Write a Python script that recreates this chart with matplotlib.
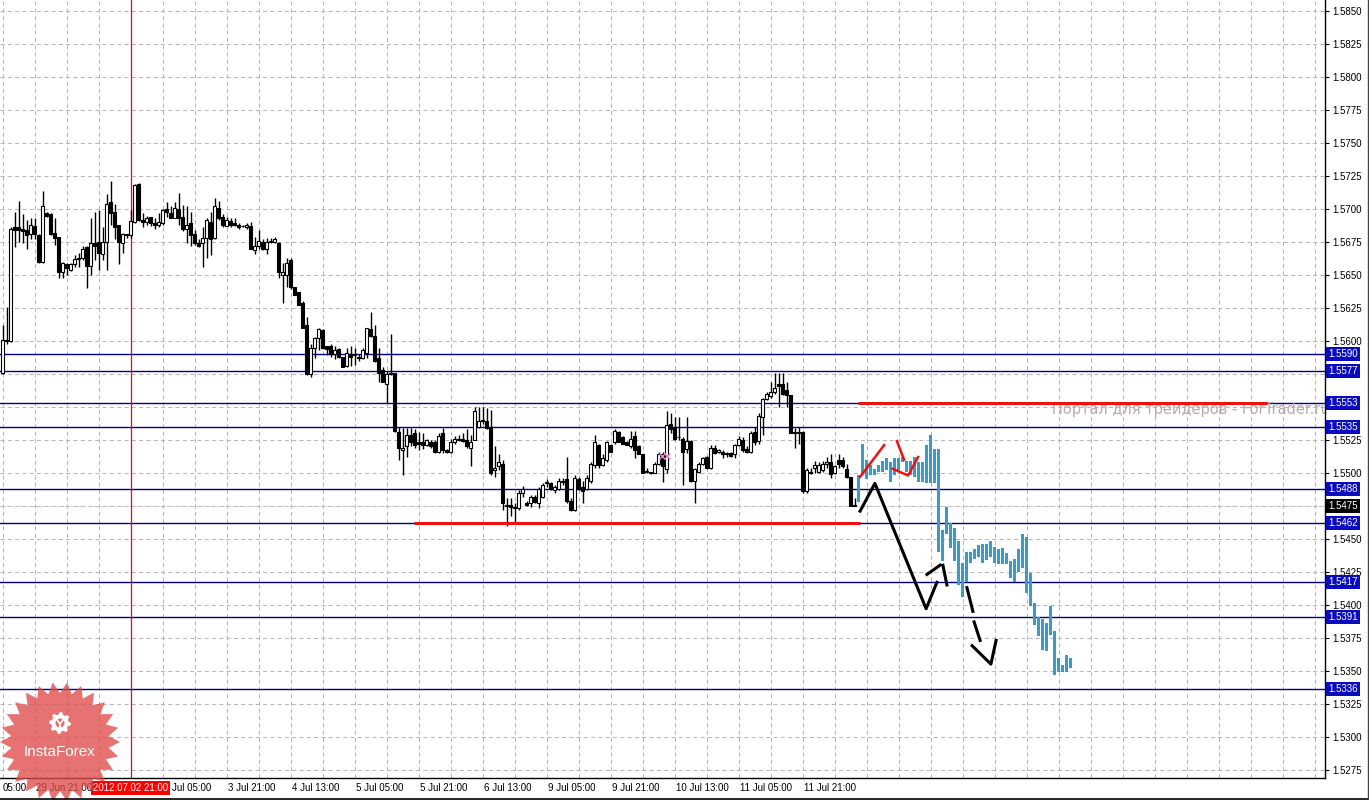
import numpy as np
import matplotlib
matplotlib.use("Agg")
import matplotlib.pyplot as plt
from matplotlib.transforms import blended_transform_factory

# H1 candles, bar 0 .. 213
opens = [1.5576, 1.5601, 1.5600, 1.5686, 1.5686, 1.5685, 1.5684, 1.5681, 1.5687, 1.5680,
         1.5660, 1.5697, 1.5696, 1.5682, 1.5679, 1.5652, 1.5658, 1.5654, 1.5658, 1.5662,
         1.5663, 1.5671, 1.5657, 1.5674, 1.5675, 1.5666, 1.5675, 1.5705, 1.5698, 1.5688,
         1.5674, 1.5681, 1.5680, 1.5690, 1.5719, 1.5692, 1.5690, 1.5694, 1.5689, 1.5688,
         1.5689, 1.5700, 1.5697, 1.5693, 1.5700, 1.5694, 1.5685, 1.5689, 1.5681, 1.5674,
         1.5674, 1.5678, 1.5690, 1.5678, 1.5701, 1.5694, 1.5687, 1.5691, 1.5689, 1.5688,
         1.5687, 1.5686, 1.5687, 1.5669, 1.5672, 1.5675, 1.5670, 1.5676, 1.5675, 1.5674,
         1.5650, 1.5650, 1.5661, 1.5641, 1.5637, 1.5629, 1.5612, 1.5575, 1.5595, 1.5602,
         1.5608, 1.5596, 1.5596, 1.5590, 1.5594, 1.5588, 1.5581, 1.5590, 1.5590, 1.5588,
         1.5587, 1.5591, 1.5609, 1.5604, 1.5587, 1.5578, 1.5567, 1.5576, 1.5576, 1.5531,
         1.5517, 1.5520, 1.5529, 1.5530, 1.5523, 1.5523, 1.5521, 1.5523, 1.5523, 1.5516,
         1.5530, 1.5517, 1.5516, 1.5523, 1.5526, 1.5526, 1.5525, 1.5519, 1.5525, 1.5535,
         1.5540, 1.5539, 1.5534, 1.5502, 1.5505, 1.5507, 1.5476, 1.5476, 1.5474, 1.5473,
         1.5485, 1.5477, 1.5477, 1.5482, 1.5477, 1.5482, 1.5492, 1.5492, 1.5487, 1.5488,
         1.5494, 1.5495, 1.5479, 1.5472, 1.5495, 1.5489, 1.5488, 1.5494, 1.5506, 1.5521,
         1.5506, 1.5510, 1.5521, 1.5523, 1.5531, 1.5527, 1.5523, 1.5520, 1.5528, 1.5520,
         1.5514, 1.5501, 1.5500, 1.5500, 1.5507, 1.5514, 1.5503, 1.5537, 1.5535, 1.5527,
         1.5526, 1.5518, 1.5524, 1.5494, 1.5501, 1.5507, 1.5512, 1.5504, 1.5519, 1.5516,
         1.5516, 1.5514, 1.5515, 1.5514, 1.5521, 1.5525, 1.5518, 1.5516, 1.5531, 1.5524,
         1.5542, 1.5556, 1.5558, 1.5561, 1.5567, 1.5567, 1.5563, 1.5559, 1.5531, 1.5530,
         1.5531, 1.5486, 1.5501, 1.5504, 1.5501, 1.5502, 1.5507, 1.5508, 1.5500, 1.5510,
         1.5510, 1.5503, 1.5497, 1.5476]
highs = [1.5612, 1.5626, 1.5686, 1.5698, 1.5706, 1.5696, 1.5692, 1.5693, 1.5693, 1.5681,
         1.5714, 1.5698, 1.5697, 1.5693, 1.5679, 1.5660, 1.5659, 1.5659, 1.5665, 1.5667,
         1.5672, 1.5672, 1.5693, 1.5698, 1.5699, 1.5686, 1.5711, 1.5721, 1.5704, 1.5688,
         1.5682, 1.5681, 1.5699, 1.5719, 1.5720, 1.5697, 1.5695, 1.5694, 1.5693, 1.5697,
         1.5700, 1.5705, 1.5702, 1.5705, 1.5712, 1.5703, 1.5702, 1.5698, 1.5684, 1.5677,
         1.5686, 1.5693, 1.5698, 1.5708, 1.5706, 1.5696, 1.5694, 1.5693, 1.5693, 1.5689,
         1.5688, 1.5689, 1.5690, 1.5679, 1.5684, 1.5677, 1.5678, 1.5678, 1.5679, 1.5675,
         1.5659, 1.5663, 1.5663, 1.5641, 1.5637, 1.5630, 1.5618, 1.5598, 1.5603, 1.5610,
         1.5609, 1.5596, 1.5598, 1.5596, 1.5595, 1.5588, 1.5595, 1.5596, 1.5595, 1.5590,
         1.5595, 1.5610, 1.5622, 1.5612, 1.5595, 1.5580, 1.5577, 1.5605, 1.5576, 1.5535,
         1.5534, 1.5534, 1.5534, 1.5533, 1.5531, 1.5530, 1.5526, 1.5525, 1.5525, 1.5530,
         1.5534, 1.5518, 1.5526, 1.5528, 1.5529, 1.5530, 1.5533, 1.5529, 1.5550, 1.5550,
         1.5550, 1.5549, 1.5548, 1.5520, 1.5514, 1.5510, 1.5481, 1.5481, 1.5477, 1.5487,
         1.5490, 1.5479, 1.5483, 1.5483, 1.5489, 1.5492, 1.5495, 1.5493, 1.5491, 1.5496,
         1.5496, 1.5512, 1.5481, 1.5498, 1.5497, 1.5494, 1.5498, 1.5508, 1.5529, 1.5522,
         1.5514, 1.5524, 1.5522, 1.5533, 1.5532, 1.5528, 1.5524, 1.5532, 1.5532, 1.5521,
         1.5514, 1.5504, 1.5501, 1.5508, 1.5516, 1.5516, 1.5547, 1.5545, 1.5542, 1.5542,
         1.5527, 1.5542, 1.5525, 1.5504, 1.5508, 1.5512, 1.5513, 1.5521, 1.5521, 1.5518,
         1.5517, 1.5516, 1.5516, 1.5522, 1.5528, 1.5527, 1.5520, 1.5532, 1.5535, 1.5545,
         1.5557, 1.5561, 1.5569, 1.5576, 1.5576, 1.5576, 1.5569, 1.5559, 1.5534, 1.5535,
         1.5532, 1.5504, 1.5504, 1.5509, 1.5508, 1.5509, 1.5512, 1.5514, 1.5506, 1.5514,
         1.5512, 1.5507, 1.5497, 1.5481]
lows = [1.5575, 1.5598, 1.5599, 1.5671, 1.5675, 1.5674, 1.5670, 1.5677, 1.5677, 1.5659,
        1.5659, 1.5694, 1.5680, 1.5673, 1.5648, 1.5648, 1.5650, 1.5653, 1.5656, 1.5656,
        1.5661, 1.5640, 1.5650, 1.5661, 1.5654, 1.5661, 1.5654, 1.5688, 1.5677, 1.5658,
        1.5667, 1.5678, 1.5678, 1.5689, 1.5691, 1.5686, 1.5688, 1.5687, 1.5685, 1.5686,
        1.5688, 1.5694, 1.5693, 1.5693, 1.5688, 1.5683, 1.5674, 1.5672, 1.5673, 1.5671,
        1.5656, 1.5663, 1.5665, 1.5677, 1.5692, 1.5686, 1.5687, 1.5686, 1.5687, 1.5685,
        1.5686, 1.5685, 1.5670, 1.5666, 1.5670, 1.5669, 1.5666, 1.5674, 1.5674, 1.5648,
        1.5629, 1.5641, 1.5639, 1.5635, 1.5627, 1.5610, 1.5574, 1.5573, 1.5587, 1.5593,
        1.5594, 1.5589, 1.5588, 1.5586, 1.5587, 1.5580, 1.5580, 1.5581, 1.5582, 1.5585,
        1.5586, 1.5587, 1.5603, 1.5584, 1.5569, 1.5569, 1.5553, 1.5574, 1.5531, 1.5510,
        1.5498, 1.5512, 1.5520, 1.5519, 1.5517, 1.5518, 1.5520, 1.5519, 1.5515, 1.5515,
        1.5515, 1.5515, 1.5515, 1.5522, 1.5524, 1.5523, 1.5519, 1.5505, 1.5525, 1.5534,
        1.5537, 1.5533, 1.5498, 1.5497, 1.5502, 1.5472, 1.5460, 1.5467, 1.5463, 1.5472,
        1.5482, 1.5475, 1.5474, 1.5477, 1.5473, 1.5481, 1.5489, 1.5487, 1.5485, 1.5487,
        1.5491, 1.5477, 1.5471, 1.5471, 1.5487, 1.5477, 1.5487, 1.5492, 1.5504, 1.5504,
        1.5505, 1.5508, 1.5516, 1.5522, 1.5523, 1.5522, 1.5521, 1.5519, 1.5511, 1.5514,
        1.5500, 1.5500, 1.5499, 1.5500, 1.5506, 1.5493, 1.5500, 1.5530, 1.5525, 1.5525,
        1.5491, 1.5515, 1.5493, 1.5477, 1.5500, 1.5506, 1.5503, 1.5503, 1.5514, 1.5515,
        1.5511, 1.5512, 1.5512, 1.5511, 1.5520, 1.5516, 1.5515, 1.5515, 1.5521, 1.5522,
        1.5529, 1.5555, 1.5557, 1.5560, 1.5550, 1.5559, 1.5550, 1.5530, 1.5519, 1.5522,
        1.5485, 1.5485, 1.5499, 1.5500, 1.5500, 1.5501, 1.5504, 1.5496, 1.5499, 1.5504,
        1.5504, 1.5496, 1.5475, 1.5475]
closes = [1.5601, 1.5600, 1.5685, 1.5684, 1.5684, 1.5683, 1.5680, 1.5688, 1.5681, 1.5660,
          1.5702, 1.5695, 1.5681, 1.5678, 1.5652, 1.5659, 1.5655, 1.5658, 1.5662, 1.5663,
          1.5670, 1.5657, 1.5674, 1.5672, 1.5667, 1.5675, 1.5704, 1.5697, 1.5686, 1.5675,
          1.5681, 1.5680, 1.5691, 1.5718, 1.5692, 1.5690, 1.5693, 1.5689, 1.5688, 1.5690,
          1.5699, 1.5698, 1.5693, 1.5701, 1.5693, 1.5685, 1.5688, 1.5680, 1.5674, 1.5672,
          1.5678, 1.5692, 1.5677, 1.5702, 1.5693, 1.5688, 1.5692, 1.5688, 1.5688, 1.5686,
          1.5687, 1.5688, 1.5670, 1.5672, 1.5676, 1.5670, 1.5675, 1.5675, 1.5677, 1.5652,
          1.5652, 1.5659, 1.5641, 1.5635, 1.5627, 1.5610, 1.5575, 1.5595, 1.5602, 1.5609,
          1.5595, 1.5594, 1.5590, 1.5593, 1.5588, 1.5580, 1.5591, 1.5588, 1.5589, 1.5587,
          1.5593, 1.5610, 1.5604, 1.5585, 1.5576, 1.5569, 1.5575, 1.5575, 1.5532, 1.5519,
          1.5519, 1.5529, 1.5523, 1.5521, 1.5522, 1.5521, 1.5525, 1.5520, 1.5516, 1.5528,
          1.5517, 1.5516, 1.5523, 1.5526, 1.5525, 1.5524, 1.5520, 1.5523, 1.5547, 1.5539,
          1.5539, 1.5534, 1.5500, 1.5504, 1.5508, 1.5477, 1.5475, 1.5474, 1.5473, 1.5485,
          1.5488, 1.5476, 1.5482, 1.5478, 1.5488, 1.5491, 1.5493, 1.5488, 1.5489, 1.5494,
          1.5493, 1.5479, 1.5472, 1.5496, 1.5488, 1.5486, 1.5496, 1.5507, 1.5523, 1.5506,
          1.5511, 1.5523, 1.5516, 1.5532, 1.5523, 1.5522, 1.5521, 1.5526, 1.5517, 1.5514,
          1.5500, 1.5501, 1.5500, 1.5507, 1.5514, 1.5505, 1.5536, 1.5533, 1.5526, 1.5527,
          1.5516, 1.5524, 1.5494, 1.5503, 1.5507, 1.5511, 1.5504, 1.5519, 1.5515, 1.5517,
          1.5514, 1.5515, 1.5513, 1.5521, 1.5526, 1.5517, 1.5516, 1.5530, 1.5523, 1.5543,
          1.5556, 1.5560, 1.5561, 1.5564, 1.5566, 1.5560, 1.5559, 1.5530, 1.5530, 1.5531,
          1.5486, 1.5502, 1.5500, 1.5506, 1.5506, 1.5507, 1.5508, 1.5499, 1.5505, 1.5507,
          1.5505, 1.5497, 1.5475, 1.5475]

# forecast bars (blue), bars 214 .. 267
fc_highs = [1.5498, 1.5522, 1.5510, 1.5506, 1.5503, 1.5506, 1.5509, 1.5511, 1.5508, 1.5511,
            1.5511, 1.5512, 1.5509, 1.5509, 1.5512, 1.5508, 1.5508, 1.5521, 1.5529, 1.5518,
            1.5518, 1.5457, 1.5474, 1.5462, 1.5458, 1.5448, 1.5432, 1.5440, 1.5440, 1.5442,
            1.5445, 1.5446, 1.5446, 1.5448, 1.5444, 1.5442, 1.5443, 1.5439, 1.5433, 1.5435,
            1.5442, 1.5454, 1.5451, 1.5424, 1.5401, 1.5391, 1.5389, 1.5386, 1.5399, 1.5380,
            1.5360, 1.5354, 1.5362, 1.5360]
fc_lows = [1.5478, 1.5498, 1.5495, 1.5498, 1.5498, 1.5501, 1.5501, 1.5502, 1.5493, 1.5498,
           1.5501, 1.5508, 1.5501, 1.5498, 1.5497, 1.5493, 1.5493, 1.5492, 1.5492, 1.5492,
           1.5440, 1.5433, 1.5454, 1.5443, 1.5433, 1.5415, 1.5406, 1.5417, 1.5432, 1.5435,
           1.5436, 1.5432, 1.5434, 1.5436, 1.5432, 1.5431, 1.5431, 1.5431, 1.5420, 1.5417,
           1.5425, 1.5428, 1.5409, 1.5399, 1.5385, 1.5376, 1.5366, 1.5365, 1.5377, 1.5347,
           1.5349, 1.5349, 1.5349, 1.5352]
fc_start = 214

# horizontal levels with price labels on the axis
levels = [1.5590, 1.5577, 1.5553, 1.5535, 1.5488, 1.5462, 1.5417, 1.5391, 1.5336]
bid = 1.5475

# red support / resistance segments: (bar from, bar to, price)
red_levels = [(213.9, 316.1, 1.5553), (102.9, 214.4, 1.5462)]

# hand drawn scenario lines: lists of (bar, price)
black_paths = [
    [(214.4, 1.5471), (218.1, 1.5492), (230.9, 1.5397), (233.6, 1.5417)],
    [(231.1, 1.5423), (234.4, 1.5430)],
    [(235.1, 1.5430), (236.1, 1.5415)],
    [(241.1, 1.5413), (242.6, 1.5395)],
    [(242.9, 1.5387), (244.4, 1.5373)],
    [(242.4, 1.5369), (247.1, 1.5355), (248.4, 1.5373)],
]
red_paths = [
    [(214.4, 1.5497), (220.4, 1.5521)],
    [(223.6, 1.5524), (225.4, 1.5510)],
    [(222.6, 1.5503), (226.4, 1.5498), (228.9, 1.5512)],
]

# time axis: a label every 16 bars (the one at bar 24 sits under the cursor box)
time_bars = [8, 56, 72, 88, 104, 120, 136, 152, 168, 184, 200]
time_labels = ["29 Jun 21:00", "3 Jul 21:00", "4 Jul 13:00", "5 Jul 05:00", "5 Jul 21:00",
               "6 Jul 13:00", "9 Jul 05:00", "9 Jul 21:00", "10 Jul 13:00", "11 Jul 05:00",
               "11 Jul 21:00"]
left_cut_label = "05:00"      # tail of "29 Jun 05:00" at the left edge
cursor_tail_label = "Jul 05:00"  # tail of "3 Jul 05:00" next to the cursor box
cursor_bar = 32
cursor_label = "2012.07.02 21:00"

FONT = "Liberation Sans"
W, H = 1369, 800

fig = plt.figure(figsize=(W / 100, H / 100), dpi=100)
fig.patch.set_facecolor("white")
ax = fig.add_axes([0, 22 / H, 1325 / W, 778 / H])
ax.set_xlim(-0.625, 330.625)
ax.set_ylim(1.52687, 1.58584)

# grid
grid_prices = np.arange(1.5275, 1.58501, 0.0025)
for p in grid_prices:
    ax.axhline(p, color="#b8b8b8", lw=0.75, ls=(0, (4, 3)), zorder=0)
for b in range(0, 331, 8):
    ax.axvline(b, color="#b0bcb0", lw=0.75, ls=(0, (4, 3)), zorder=0)

# bid line
ax.axhline(bid, color="#c8c8c8", lw=0.75, ls=(0, (1, 1)), zorder=0)

# levels
for lv in levels:
    ax.axhline(lv, color="#00008b", lw=1.0, zorder=1)

ax.axvline(cursor_bar, color="red", lw=0.9, zorder=1)

# candles
o = np.array(opens); h = np.array(highs); l = np.array(lows); c = np.array(closes)
x = np.arange(len(o))
up = c >= o
body_lo = np.minimum(o, c)
body_h = np.maximum(np.abs(c - o), 0.00003)
ax.vlines(x, l, h, color="black", lw=1.0, zorder=2)
ax.bar(x[up], body_h[up], bottom=body_lo[up], width=0.62, facecolor="white",
       edgecolor="black", lw=0.8, zorder=3)
ax.bar(x[~up], body_h[~up], bottom=body_lo[~up], width=0.62, facecolor="black",
       edgecolor="black", lw=0.8, zorder=3)

# forecast bars
fh = np.array(fc_highs); fl = np.array(fc_lows)
xf = np.arange(fc_start, fc_start + len(fh))
ax.bar(xf, fh - fl, bottom=fl, width=0.8, color="#3a9bc5", zorder=3)

for b0, b1, p in red_levels:
    ax.plot([b0, b1], [p, p], color="#ee1111", lw=2.2, zorder=4, solid_capstyle="butt")

for path in black_paths:
    px, py = zip(*path)
    ax.plot(px, py, color="black", lw=2.2, zorder=5)
for path in red_paths:
    px, py = zip(*path)
    ax.plot(px, py, color="#ee1111", lw=1.8, zorder=5)

ax.plot([164.8, 166.2], [1.5513, 1.5513], ls="none", marker="x", ms=4,
        mew=1, color="#e48ad0", zorder=4)

# watermark
ax.text(262.4, 1.5548, "Портал для трейдеров - ForTrader.ru", color="#b9a9a9",
        fontsize=10.5, family="DejaVu Sans", va="center", ha="left", clip_on=True, zorder=2)

# axes styling
for s in ["top", "left"]:
    ax.spines[s].set_visible(False)
ax.spines["right"].set_linewidth(1.0)
ax.spines["bottom"].set_linewidth(1.0)
ax.yaxis.tick_right()
ax.set_yticks(grid_prices)
hidden = {"1.5575", "1.5550", "1.5475"}   # covered by the level boxes
ax.set_yticklabels(["" if f"{p:.4f}" in hidden else f"{p:.4f}" for p in grid_prices],
                   fontsize=7, family=FONT)
ax.tick_params(axis="y", length=3, width=0.8, pad=2, direction="out")
ax.set_xticks([])

# axis price boxes
tr_y = blended_transform_factory(ax.transAxes, ax.transData)
for lv in levels:
    ax.text(1.0025, lv, f"{lv:.4f}", transform=tr_y, ha="left", va="center", fontsize=7,
            family=FONT, color="white", zorder=10, clip_on=False,
            bbox=dict(boxstyle="square,pad=0.2", fc="#0a0ac0", ec="none"))
ax.text(1.0025, bid, f"{bid:.4f}", transform=tr_y, ha="left", va="center", fontsize=7,
        family=FONT, color="white", zorder=10, clip_on=False,
        bbox=dict(boxstyle="square,pad=0.2", fc="black", ec="none"))

# time labels
tr_x = blended_transform_factory(ax.transData, ax.transAxes)
for b, lab in zip(time_bars, time_labels):
    ax.text(b + 0.3, -0.006, lab, transform=tr_x, ha="left", va="top", fontsize=7,
            family=FONT, color="black", clip_on=False)
ax.text(0, -0.006, left_cut_label, transform=tr_x, ha="left", va="top", fontsize=7,
        family=FONT, color="black", clip_on=False)
ax.text(42.5, -0.006, cursor_tail_label, transform=tr_x, ha="left", va="top", fontsize=7,
        family=FONT, color="black", clip_on=False)
ax.text(cursor_bar, -0.006, cursor_label, transform=tr_x, ha="center", va="top",
        fontsize=7, family=FONT, color="white", zorder=10, clip_on=False,
        bbox=dict(boxstyle="square,pad=0.2", fc="#ff0000", ec="none"))

# overlay in pixel space: logo and window frame
ov = fig.add_axes([0, 0, 1, 1], zorder=5)
ov.set_xlim(0, W)
ov.set_ylim(H, 0)
ov.axis("off")
ov.patch.set_visible(False)

n = 26
ang = np.linspace(0, 2 * np.pi, 2 * n, endpoint=False)
rad = np.where(np.arange(2 * n) % 2 == 0, 60, 49)
cx, cy = 60, 742
ov.fill(cx + rad * np.cos(ang), cy + rad * np.sin(ang), color="#e04a4a", alpha=0.78, lw=0)

g = 16
gang = np.linspace(0, 2 * np.pi, 2 * g, endpoint=False)
grad = np.where((np.arange(2 * g) // 2) % 2 == 0, 11, 8.5)
gx, gy = 60, 723
ov.fill(gx + grad * np.cos(gang), gy + grad * np.sin(gang), color="white", lw=0)
ov.add_patch(plt.Circle((gx, gy), 4.5, color="#e86a6a", lw=0))
ov.plot([gx - 3, gx, gx + 3], [gy - 3, gy + 1, gy - 3], color="white", lw=1.2)
ov.plot([gx, gx], [gy + 1, gy + 8], color="white", lw=1.6)
ov.text(cx, 752, "InstaForex", color="white", fontsize=11, family=FONT,
        ha="center", va="center")

ov.plot([0, W], [798.5, 798.5], color="black", lw=1.2)
ov.plot([1367.5, 1367.5], [0, 799], color="#444444", lw=1.0)

fig.savefig("out.png", dpi=100, facecolor="white")
